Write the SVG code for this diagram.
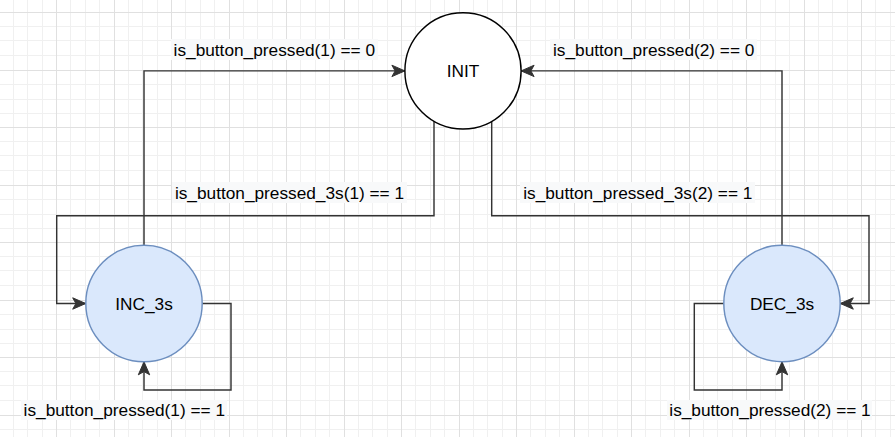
<svg xmlns="http://www.w3.org/2000/svg" width="895" height="437" viewBox="0 0 895 437">
  <style>
    .edge { fill: none; stroke: #333333; stroke-width: 1.44; marker-end: url(#arrow); }
    .lblbg { fill: #f8f9fa; }
    .lbl { font-family: "Liberation Sans", Arial, sans-serif; font-size: 17.25px; fill: #000000; text-anchor: middle; }
    .state { fill: #ffffff; stroke: #000000; stroke-width: 1.44; }
    .state3s { fill: #dae8fc; stroke: #6c8ebf; stroke-width: 1.44; }
    .name { font-family: "Liberation Sans", Arial, sans-serif; font-size: 17.25px; fill: #000000; text-anchor: middle; }
  </style>
  <defs>
    <pattern id="grid" patternUnits="userSpaceOnUse" x="56" y="12" width="115" height="115">
      <path d="M14.5,0V115M29.5,0V115M43.5,0V115M72.5,0V115M86.5,0V115M101.5,0V115M0,14.5H115M0,28.5H115M0,43.5H115M0,72.5H115M0,87.5H115M0,101.5H115" stroke="#f0f0f0" stroke-width="1" fill="none"/>
      <path d="M0.5,0V115M58.5,0V115M0,0.5H115M0,58.5H115" stroke="#e0e0e0" stroke-width="1" fill="none"/>
    </pattern>
    <marker id="arrow" markerUnits="userSpaceOnUse" viewBox="-14 -7 15 14" refX="0" refY="0" markerWidth="15" markerHeight="14" orient="auto">
      <path d="M0,0 L-13,-5.7 L-9.8,0 L-13,5.7 Z" fill="#333333" stroke="#333333" stroke-width="1"/>
    </marker>
  </defs>
  <rect x="0" y="0" width="895" height="437" fill="#ffffff"/>
  <rect x="0" y="0" width="895" height="437" fill="url(#grid)"/>

  <g id="connectors">
    <path class="edge" d="M144,245.2 V70.9 H404.9"/>
    <path class="edge" d="M782,245.2 V70.9 H521.1"/>
    <path class="edge" d="M434,121.3 V215.7 H56.7 V303.5 H85.7"/>
    <path class="edge" d="M491.7,121.5 V215.7 H869 V303.5 H840.3"/>
    <path class="edge" d="M202.3,303.5 H231 V390 H144 V361.8"/>
    <path class="edge" d="M723.7,303.5 H694.3 V390 H782 V361.8"/>
  </g>

  <g id="edge-labels">
    <rect class="lblbg" x="171" y="39" width="207" height="21"/>
    <text class="lbl" x="274.3" y="55.5">is_button_pressed(1) == 0</text>
    <rect class="lblbg" x="550" y="39" width="207" height="21"/>
    <text class="lbl" x="653.7" y="55.5">is_button_pressed(2) == 0</text>
    <rect class="lblbg" x="172" y="182" width="235" height="21"/>
    <text class="lbl" x="289.5" y="198.5">is_button_pressed_3s(1) == 1</text>
    <rect class="lblbg" x="520" y="182" width="235" height="21"/>
    <text class="lbl" x="637.8" y="198.5">is_button_pressed_3s(2) == 1</text>
    <rect class="lblbg" x="21" y="400" width="206" height="20"/>
    <text class="lbl" x="124.3" y="415.7">is_button_pressed(1) == 1</text>
    <rect class="lblbg" x="667" y="400" width="205" height="20"/>
    <text class="lbl" x="770" y="415.7">is_button_pressed(2) == 1</text>
  </g>

  <g id="INIT">
    <circle class="state" cx="463" cy="70.9" r="58.1"/>
    <text class="name" x="463" y="77">INIT</text>
  </g>
  <g id="INC_3s">
    <circle class="state3s" cx="144" cy="303.5" r="58.2"/>
    <text class="name" x="144" y="309.6">INC_3s</text>
  </g>
  <g id="DEC_3s">
    <circle class="state3s" cx="782" cy="303.5" r="58.2"/>
    <text class="name" x="782" y="309.6">DEC_3s</text>
  </g>
</svg>
